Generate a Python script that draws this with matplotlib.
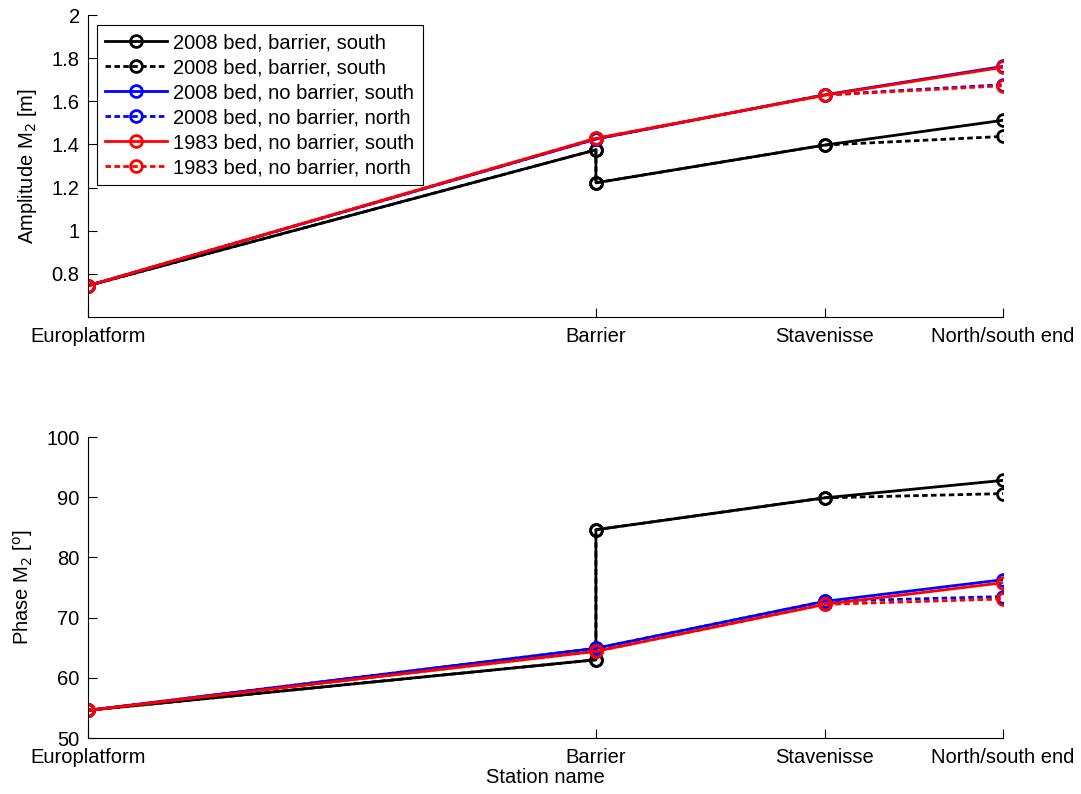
import matplotlib
matplotlib.use("Agg")
import matplotlib.pyplot as plt

plt.rcParams['font.family'] = ['Liberation Sans', 'DejaVu Sans']

# Station positions along the estuary (relative distance)
stations = ["Europlatform", "Barrier", "Stavenisse", "North/south end"]
station_pos = [0, 55.5, 80.5, 100]

# x positions of each series' points (barrier case has two points at the barrier)
x_barrier = [0, 55.5, 55.5, 80.5, 100]
x_nobarrier = [0, 55.5, 80.5, 100]

# Amplitude M2 [m]
amp_2008_barrier_south = [0.745, 1.375, 1.222, 1.397, 1.512]
amp_2008_barrier_north = [0.745, 1.375, 1.222, 1.397, 1.437]
amp_2008_nobarrier_south = [0.745, 1.425, 1.630, 1.762]
amp_2008_nobarrier_north = [0.745, 1.425, 1.630, 1.677]
amp_1983_nobarrier_south = [0.745, 1.428, 1.628, 1.758]
amp_1983_nobarrier_north = [0.745, 1.428, 1.628, 1.672]

# Phase M2 [deg]
ph_2008_barrier_south = [54.6, 63.0, 84.6, 89.9, 92.8]
ph_2008_barrier_north = [54.6, 63.0, 84.6, 89.9, 90.6]
ph_2008_nobarrier_south = [54.6, 64.9, 72.7, 76.3]
ph_2008_nobarrier_north = [54.6, 64.9, 72.7, 73.5]
ph_1983_nobarrier_south = [54.6, 64.4, 72.2, 75.8]
ph_1983_nobarrier_north = [54.6, 64.4, 72.2, 73.1]

labels = ["2008 bed, barrier, south", "2008 bed, barrier, south",
          "2008 bed, no barrier, south", "2008 bed, no barrier, north",
          "1983 bed, no barrier, south", "1983 bed, no barrier, north"]

FS = 14.5

fig = plt.figure(figsize=(10.81, 7.94), dpi=100)
ax1 = fig.add_axes([0.0814, 0.6008, 0.8466, 0.3803])
ax2 = fig.add_axes([0.0814, 0.0705, 0.8466, 0.3791])

mk = dict(marker='o', markersize=8.5, markerfacecolor='none', markeredgewidth=2, lw=2)
dash = (0, (2.0, 1.2))

def draw(ax, series):
    xs = [x_barrier, x_barrier, x_nobarrier, x_nobarrier, x_nobarrier, x_nobarrier]
    cols = ['black', 'black', 'blue', 'blue', 'red', 'red']
    styles = ['-', dash, '-', dash, '-', dash]
    for x, y, c, s, lab in zip(xs, series, cols, styles, labels):
        ax.plot(x, y, color=c, linestyle=s, markeredgecolor=c, label=lab, **mk)

draw(ax1, [amp_2008_barrier_south, amp_2008_barrier_north, amp_2008_nobarrier_south,
           amp_2008_nobarrier_north, amp_1983_nobarrier_south, amp_1983_nobarrier_north])
draw(ax2, [ph_2008_barrier_south, ph_2008_barrier_north, ph_2008_nobarrier_south,
           ph_2008_nobarrier_north, ph_1983_nobarrier_south, ph_1983_nobarrier_north])

for ax in (ax1, ax2):
    ax.set_xlim(0, 100)
    ax.set_xticks(station_pos)
    ax.set_xticklabels(stations)
    ax.spines['top'].set_visible(False)
    ax.spines['right'].set_visible(False)
    ax.tick_params(direction='in', length=6.5, labelsize=FS, pad=6, width=0.8)
    ax.tick_params(axis='x', pad=7)
    for sp in ax.spines.values():
        sp.set_linewidth(0.8)

ax1.set_ylim(0.6, 2.0)
ax1.set_yticks([0.8, 1.0, 1.2, 1.4, 1.6, 1.8, 2.0])
ax1.set_yticklabels(["0.8", "1", "1.2", "1.4", "1.6", "1.8", "2"])
ax1.set_ylabel("Amplitude M$_2$ [m]", fontsize=FS, labelpad=9)

ax2.set_ylim(50, 100)
ax2.set_yticks([50, 60, 70, 80, 90, 100])
ax2.set_ylabel("Phase M$_2$ [$^\\mathrm{o}$]", fontsize=FS, labelpad=8)
ax2.set_xlabel("Station name", fontsize=FS, labelpad=1)

leg = ax1.legend(loc='upper left', bbox_to_anchor=(0.0098, 0.967), fontsize=FS,
                 numpoints=1, handlelength=3.1, handletextpad=0.3, labelspacing=0.3,
                 borderpad=0.4, fancybox=False, edgecolor='black', framealpha=1,
                 borderaxespad=0)
leg.get_frame().set_linewidth(0.8)

fig.savefig("out.png", dpi=100)
